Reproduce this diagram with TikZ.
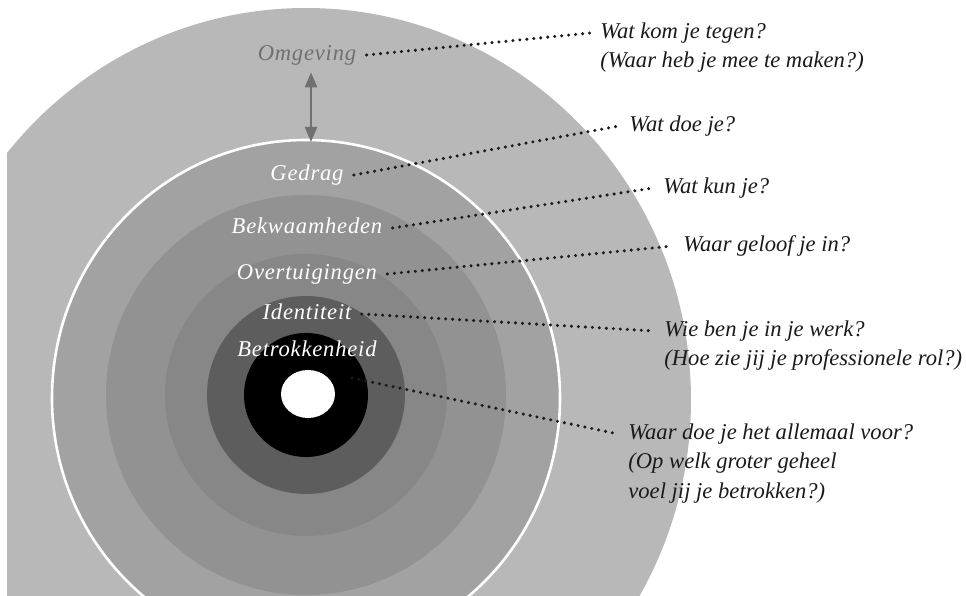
\documentclass[tikz,border=0pt]{standalone}
\usepackage{fontspec}
\setmainfont{Liberation Serif}
\usetikzlibrary{arrows.meta}

\definecolor{omgevingC}{HTML}{B8B8B8}
\definecolor{gedragC}{HTML}{A2A2A2}
\definecolor{bekwC}{HTML}{929292}
\definecolor{overC}{HTML}{878787}
\definecolor{identC}{HTML}{5D5D5D}
\definecolor{omgtext}{HTML}{707070}
\definecolor{qtext}{HTML}{1A1A1A}

\begin{document}
\begin{tikzpicture}[x=0.5bp, y=-0.5bp,
  layer/.style={text=white, font=\fontsize{11.3bp}{14bp}\selectfont\itshape\addfontfeatures{LetterSpace=3.5},
                inner xsep=5bp, inner ysep=1bp, text height=7.6bp, text depth=2.4bp},
  question/.style={text=qtext, font=\fontsize{11.3bp}{14bp}\selectfont\itshape,
                   inner xsep=5bp, inner ysep=2.25bp, text height=7.6bp, text depth=2.4bp},
  leader/.style={draw=qtext, line width=1.7bp, line cap=round, dash pattern=on 0bp off 3.5bp},
  twoway/.style={{Triangle[width=6bp,length=7.5bp]}-{Triangle[width=6bp,length=7.5bp]},
                 draw=omgtext, line width=1.2bp}
]
  \useasboundingbox (0,0) rectangle (966,596);

  % Rings
  \begin{scope}
    \clip (7,0) rectangle (966,596);
    \fill[omgevingC] (306,400) ellipse [x radius=385, y radius=392];
    \fill[gedragC] (306,398) ellipse [x radius=254, y radius=258];
    \draw[white, line width=1.3bp] (306,398) ellipse [x radius=254, y radius=258];
    \foreach \r/\c in {200/bekwC, 141/overC, 99/identC, 62/black}
      \fill[\c] (306,395) circle (\r);
    \fill[white] (308,394) ellipse [x radius=27, y radius=24];
  \end{scope}

  % Layer labels
  \node[layer, text=omgtext] (omg) at (307,55) {Omgeving};
  \node[layer] (ged) at (307,175) {Gedrag};
  \node[layer] (bek) at (307,228) {Bekwaamheden};
  \node[layer] (ovt) at (307,274) {Overtuigingen};
  \node[layer] (idt) at (307,314) {Identiteit};
  \node[layer] (bet) at (307,351) {Betrokkenheid};
  \coordinate (core) at (352,378);
  \coordinate (gedtop) at (311,142);

  % Questions
  \node[question, anchor=west] (qomg) at (590,33) {Wat kom je tegen?};
  \node[question, anchor=north west] (qomg2) at (qomg.south west) {(Waar heb je mee te maken?)};
  \node[question, anchor=west] (qged) at (619,126) {Wat doe je?};
  \node[question, anchor=west] (qbek) at (653,188) {Wat kun je?};
  \node[question, anchor=west] (qovt) at (673,246) {Waar geloof je in?};
  \node[question, anchor=west] (qidt) at (654,331) {Wie ben je in je werk?};
  \node[question, anchor=north west] (qidt2) at (qidt.south west) {(Hoe zie jij je professionele rol?)};
  \node[question, anchor=west] (qbet) at (618,434) {Waar doe je het allemaal voor?};
  \node[question, anchor=north west] (qbet2) at (qbet.south west) {(Op welk groter geheel};
  \node[question, anchor=north west] (qbet3) at (qbet2.south west) {voel jij je betrokken?)};

  % Leaders
  \draw[leader] (omg.east) -- (qomg.west);
  \draw[leader] (ged.east) -- (qged.west);
  \draw[leader] (bek.east) -- (qbek.west);
  \draw[leader] (ovt.east) -- (qovt.west);
  \draw[leader] (idt.east) -- (qidt.west);
  \draw[leader] (core) -- (qbet.west);

  % Omgeving <-> Gedrag
  \draw[twoway, shorten <=2.5bp] (omg.south -| gedtop) -- (gedtop);
\end{tikzpicture}
\end{document}
